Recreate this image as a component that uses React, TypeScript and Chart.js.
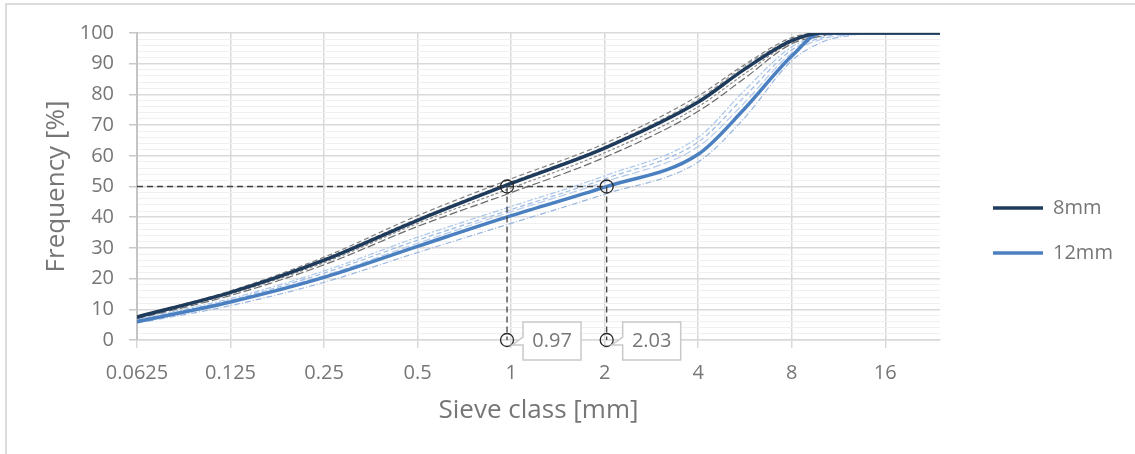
import React, { useEffect, useRef } from 'react';
import { Chart, registerables } from 'chart.js';

Chart.register(...registerables);

// ---------- data ----------
const sieveSizes = [0.0625, 0.125, 0.25, 0.5, 1, 2, 4, 5.6, 8, 10, 11.2, 16, 22.4, 31.5];

const mean8mm = [7.5, 15.5, 26, 39, 51, 62.5, 77.5, 88, 97.5, 100, 100, 100, 100, 100];
const mean12mm = [6, 12.4, 20.4, 30.5, 40.5, 49.8, 60.5, 75, 92.5, 100, 100, 100, 100, 100];

const sample8mmA = [7.8, 16, 27, 40.5, 52.5, 64, 79.5, 89.5, 98.5, 100, 100, 100, 100, 100];
const sample8mmB = [7.2, 15, 25.2, 38, 49.5, 61, 76, 86.5, 97, 99.5, 100, 100, 100, 100];
const sample8mmC = [7, 14.5, 24.5, 37, 48, 59.5, 74.5, 85, 96.5, 99, 100, 100, 100, 100];
const sample8mmD = [7.6, 15.6, 26.5, 39.5, 51.5, 63, 78.5, 89, 98, 100, 100, 100, 100, 100];

const sample12mmA = [6.8, 13.5, 22.5, 33.5, 43.5, 53.5, 66, 81, 95.5, 99, 100, 100, 100, 100];
const sample12mmB = [6.5, 13, 21.8, 32.5, 42.5, 52.5, 64.5, 79, 94.5, 98.5, 99.5, 100, 100, 100];
const sample12mmC = [6.2, 12.8, 21, 31.5, 41.8, 51.5, 63, 77, 93.5, 98, 99, 100, 100, 100];
const sample12mmD = [5.5, 11.2, 18.8, 28.5, 38, 47.5, 58, 72, 91, 97, 98.5, 100, 100, 100];

const seriesLabels = ['8mm', '12mm'];
const d50Values = [0.97, 2.03];
const d50Labels = ['0.97', '2.03'];
const d50Level = 50;

const xTickValues = [0.0625, 0.125, 0.25, 0.5, 1, 2, 4, 8, 16];
const xTickLabels = ['0.0625', '0.125', '0.25', '0.5', '1', '2', '4', '8', '16'];
const xMin = 0.0625;
const xMax = 24;
const yMin = 0;
const yMax = 100;

// ---------- helpers ----------
const FONT = "'Open Sans', 'Noto Sans', sans-serif";
const TEXT = '#767676';

const toPoints = (vals: number[]) => vals.map((v, i) => ({ x: sieveSizes[i], y: v }));

const sampleLine = (vals: number[], color: string, dash: number[]) => ({
  label: '_sample',
  data: toPoints(vals),
  borderColor: color,
  borderWidth: 1.2,
  borderDash: dash,
  pointRadius: 0,
  tension: 0.4,
  cubicInterpolationMode: 'monotone' as const,
  fill: false,
});

const framePlugin = {
  id: 'frame',
  beforeDraw(chart: any) {
    const { ctx } = chart;
    ctx.save();
    ctx.strokeStyle = '#dcdcdc';
    ctx.lineWidth = 2;
    ctx.beginPath();
    ctx.moveTo(6, chart.height);
    ctx.lineTo(6, 4);
    ctx.lineTo(chart.width, 4);
    ctx.stroke();
    ctx.restore();
  },
};

const calloutPlugin = {
  id: 'callouts',
  afterDatasetsDraw(chart: any) {
    const { ctx } = chart;
    const xs = chart.scales.x;
    const ys = chart.scales.y;
    d50Values.forEach((v, i) => {
      const px = xs.getPixelForValue(v);
      const py = ys.getPixelForValue(0);
      const L = px + 16;
      const T = py - 18;
      const W = 58;
      const H = 38;
      ctx.save();
      ctx.beginPath();
      ctx.moveTo(L, T);
      ctx.lineTo(L + W, T);
      ctx.lineTo(L + W, T + H);
      ctx.lineTo(L, T + H);
      ctx.lineTo(L, py + 5);
      ctx.lineTo(px + 5, py + 5);
      ctx.lineTo(L, py - 3);
      ctx.closePath();
      ctx.fillStyle = '#ffffff';
      ctx.fill();
      ctx.strokeStyle = '#c9c9c9';
      ctx.lineWidth = 1.5;
      ctx.stroke();
      ctx.fillStyle = TEXT;
      ctx.font = `20px ${FONT}`;
      ctx.textAlign = 'center';
      ctx.textBaseline = 'middle';
      ctx.fillText(d50Labels[i], L + W / 2, T + H / 2);
      ctx.restore();
    });
  },
};

export default function App() {
  const canvasRef = useRef<HTMLCanvasElement | null>(null);

  useEffect(() => {
    if (!canvasRef.current) return;
    const guideStyle = {
      borderColor: '#404040',
      borderWidth: 1.3,
      borderDash: [6, 4],
      tension: 0,
      fill: false,
      clip: false as const,
      pointStyle: 'circle' as const,
      pointBackgroundColor: 'rgba(0,0,0,0)',
      pointBorderColor: '#262626',
      pointBorderWidth: 1.3,
    };
    const chart = new Chart(canvasRef.current, {
      type: 'line',
      data: {
        datasets: [
          {
            ...guideStyle,
            label: '_guideV1',
            data: [
              { x: d50Values[0], y: d50Level },
              { x: d50Values[0], y: 0 },
            ],
            pointRadius: 6.5,
          },
          {
            ...guideStyle,
            label: '_guideV2',
            data: [
              { x: d50Values[1], y: d50Level },
              { x: d50Values[1], y: 0 },
            ],
            pointRadius: 6.5,
          },
          {
            ...guideStyle,
            label: '_guideH',
            data: [
              { x: xMin, y: d50Level },
              { x: d50Values[1], y: d50Level },
            ],
            pointRadius: 0,
          },
          {
            label: seriesLabels[0],
            data: toPoints(mean8mm),
            borderColor: '#1f3b5c',
            borderWidth: 3.5,
            borderCapStyle: 'round',
            pointRadius: 0,
            tension: 0.4,
            cubicInterpolationMode: 'monotone',
            fill: false,
          },
          {
            label: seriesLabels[1],
            data: toPoints(mean12mm),
            borderColor: '#4a7fc0',
            borderWidth: 3.5,
            borderCapStyle: 'round',
            pointRadius: 0,
            tension: 0.4,
            cubicInterpolationMode: 'monotone',
            fill: false,
          },
          sampleLine(sample8mmA, '#7f7f7f', [5, 3]),
          sampleLine(sample8mmB, '#8c8c8c', [3, 2]),
          sampleLine(sample8mmC, '#6b6b6b', [8, 3]),
          sampleLine(sample8mmD, '#a0a0a0', [4, 3]),
          sampleLine(sample12mmA, '#a9c6ea', [6, 2, 2, 2]),
          sampleLine(sample12mmB, '#9dbbe3', [5, 3]),
          sampleLine(sample12mmC, '#b4cbec', [8, 3]),
          sampleLine(sample12mmD, '#9ab6df', [6, 2, 1, 2]),
        ] as any,
      },
      options: {
        responsive: false,
        animation: false,
        layout: { padding: { left: 37, top: 33, right: 17, bottom: 26 } },
        plugins: {
          legend: {
            position: 'right',
            align: 'center',
            maxWidth: 150,
            labels: {
              usePointStyle: true,
              pointStyle: 'line',
              pointStyleWidth: 50,
              padding: 25,
              color: TEXT,
              font: { family: FONT, size: 20 },
              filter: (item: any) => seriesLabels.includes(item.text),
            },
          },
          tooltip: { enabled: false },
        },
        scales: {
          x: {
            type: 'logarithmic',
            min: xMin,
            max: xMax,
            afterBuildTicks: (s: any) => {
              s.ticks = xTickValues.map((v) => ({ value: v }));
            },
            afterFit: (s: any) => {
              s.height = 88;
            },
            ticks: {
              autoSkip: false,
              maxRotation: 0,
              padding: 13,
              color: TEXT,
              font: { family: FONT, size: 20 },
              callback: (v: any) => {
                const i = xTickValues.indexOf(Number(v));
                return i >= 0 ? xTickLabels[i] : '';
              },
            },
            grid: { color: '#d9d9d9', lineWidth: 1.5, tickLength: 8, tickColor: '#d9d9d9' },
            border: { color: '#d9d9d9', width: 1.5 },
            title: {
              display: true,
              text: 'Sieve class [mm]',
              color: TEXT,
              font: { family: FONT, size: 26 },
              padding: { top: 4, bottom: 2 },
            },
          },
          y: {
            type: 'linear',
            min: yMin,
            max: yMax,
            afterFit: (s: any) => {
              s.width = 100;
            },
            ticks: {
              stepSize: 2,
              autoSkip: false,
              padding: 15,
              color: TEXT,
              font: { family: FONT, size: 20 },
              callback: (v: any) => (Number(v) % 10 === 0 ? String(v) : ''),
            },
            grid: {
              color: (c: any) => (c.tick && c.tick.value % 10 === 0 ? '#d9d9d9' : '#f0f0f0'),
              lineWidth: (c: any) => (c.tick && c.tick.value % 10 === 0 ? 1.5 : 1),
              tickLength: 8,
              tickColor: (c: any) => (c.tick && c.tick.value % 10 === 0 ? '#c8c8c8' : 'rgba(0,0,0,0)'),
            },
            border: { color: '#c4c4c4', width: 2 },
            title: {
              display: true,
              text: 'Frequency [%]',
              color: TEXT,
              font: { family: FONT, size: 26 },
              padding: { top: 4, bottom: 4 },
            },
          },
          y2: {
            type: 'linear',
            position: 'right',
            display: true,
            afterFit: (s: any) => {
              s.width = 28;
            },
            ticks: { display: false },
            grid: { display: false, drawTicks: false },
            border: { display: false },
          },
        },
      } as any,
      plugins: [framePlugin, calloutPlugin],
    });
    return () => chart.destroy();
  }, []);

  return (
    <div style={{ position: 'absolute', left: 0, top: 0, width: 1135, height: 454, background: '#fff' }}>
      <canvas ref={canvasRef} width={1135} height={454} style={{ width: 1135, height: 454, display: 'block' }} />
    </div>
  );
}
